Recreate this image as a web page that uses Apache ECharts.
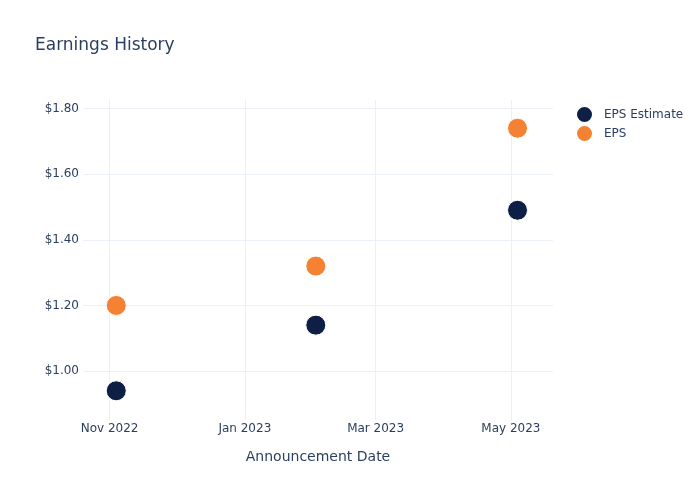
<!DOCTYPE html>
<html><head><meta charset="utf-8">
<script src="https://cdn.jsdelivr.net/npm/echarts@6/dist/echarts.min.js"></script>
<style>html,body{margin:0;padding:0;background:#fff}#c{width:700px;height:500px}</style>
</head><body><div id="c"></div>
<script>
const dates = ['2022-11-04', '2023-02-02', '2023-05-04'];
const epsEstimate = [0.94, 1.14, 1.49];
const eps = [1.20, 1.32, 1.74];
const yTicks = [1.0, 1.2, 1.4, 1.6, 1.8];
const xTicks = ['2022-11-01', '2023-01-01', '2023-03-01', '2023-05-01'];
const monthNames = ['Jan','Feb','Mar','Apr','May','Jun','Jul','Aug','Sep','Oct','Nov','Dec'];

const ts = s => new Date(s + 'T00:00:00Z').getTime();
const textColor = '#2a3f5f';
const gridColor = '#ebf0f8';
const font = '"DejaVu Sans", "Open Sans", sans-serif';

const chart = echarts.init(document.getElementById('c'), null, {renderer: 'canvas'});
chart.setOption({
  animation: false,
  backgroundColor: '#fff',
  textStyle: {fontFamily: font},
  title: {text: 'Earnings History', left: 30, top: 32,
    textStyle: {fontFamily: font, fontSize: 17, fontWeight: 'normal', color: textColor}},
  legend: {
    orient: 'vertical', left: 570, top: 100, itemGap: 0,
    icon: 'circle', itemWidth: 17, itemHeight: 17,
    textStyle: {fontFamily: font, fontSize: 12, color: textColor, lineHeight: 14, padding: [0, 0, 0, 6]},
    data: ['EPS Estimate', 'EPS']
  },
  grid: {left: 83, right: 147, top: 100, bottom: 80},
  xAxis: {
    type: 'value',
    min: ts('2022-10-20'), max: ts('2023-05-20'),
    name: 'Announcement Date', nameLocation: 'middle', nameGap: 30,
    nameTextStyle: {fontFamily: font, fontSize: 14, color: textColor},
    axisLine: {show: false}, axisTick: {show: false, customValues: xTicks.map(ts)},
    splitLine: {show: true, lineStyle: {color: gridColor, width: 1}},
    axisLabel: {
      customValues: xTicks.map(ts),
      color: textColor, fontFamily: font, fontSize: 12, margin: 3,
      formatter: v => { const d = new Date(v); return monthNames[d.getUTCMonth()] + ' ' + d.getUTCFullYear(); }
    }
  },
  yAxis: {
    type: 'value', min: 0.851, max: 1.826,
    axisLine: {show: false}, axisTick: {show: false, customValues: yTicks},
    splitLine: {show: true, lineStyle: {color: gridColor, width: 1}},
    axisLabel: {customValues: yTicks, color: textColor, fontFamily: font, fontSize: 12, margin: 4,
      formatter: v => '$' + v.toFixed(2)}
  },
  series: [
    {name: 'EPS Estimate', type: 'scatter', symbolSize: 20,
      itemStyle: {color: '#0d1f44', borderColor: '#fff', borderWidth: 1, opacity: 1},
      data: dates.map((d, i) => [ts(d), epsEstimate[i]])},
    {name: 'EPS', type: 'scatter', symbolSize: 20,
      itemStyle: {color: '#f58233', borderColor: '#fff', borderWidth: 1, opacity: 1},
      data: dates.map((d, i) => [ts(d), eps[i]])}
  ]
});
</script></body></html>
